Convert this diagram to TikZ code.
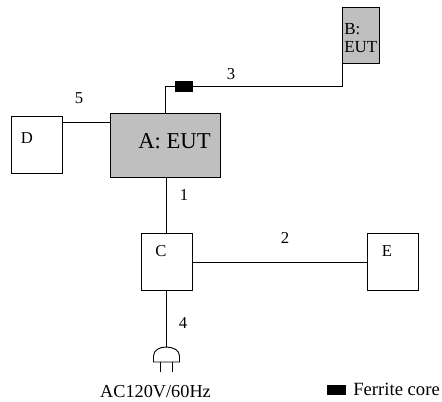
\documentclass[tikz,border=0pt]{standalone}
\usepackage{fontspec}
\setmainfont{Liberation Serif}
\tikzset{
  x=0.75pt,y=-0.75pt,
  plainbox/.style={draw,line width=0.7pt,minimum width=38.25pt,minimum height=42.75pt,inner sep=0pt,outer sep=0pt,anchor=north west,fill=white},
  eutbox/.style={plainbox,fill=black!25},
  lbl/.style={font=\fontsize{12.5}{14}\selectfont,inner sep=0pt},
  wire/.style={line width=0.7pt},
}
\begin{document}
\begin{tikzpicture}
\useasboundingbox (0,0) rectangle (442,401);
\node[eutbox,minimum width=82.5pt,minimum height=48pt] (A) at (110,113) {};
\node[font=\fontsize{17}{20}\selectfont,inner sep=0pt] (Atext) at (174.5,141) {A: EUT};
\node[eutbox,minimum width=27.75pt,minimum height=42pt] (B) at (342,7) {};
\node[font=\fontsize{12.7}{14}\selectfont,align=left,inner sep=0pt,anchor=west] (Btext) at (344,38) {B:\\EUT};
\node[plainbox] (D) at (11,116) {};
\node[lbl] (Dt) at (27,138) {D};
\node[plainbox] (C) at (141,233) {};
\node[lbl] (Ct) at (161,251) {C};
\node[plainbox] (E) at (367,233) {};
\node[lbl] (Et) at (387,251) {E};
\coordinate (b3) at (342,86);
\coordinate (a3) at (165,86);
\draw[wire] (B.south west) -- (b3) -- (a3) -- (a3 |- A.north);
\node[fill=black,minimum width=13.5pt,minimum height=8.25pt,inner sep=0pt] (F) at (184,86.5) {};
\draw[wire] (D.east |- 0,122) -- (A.west |- 0,122);
\draw[wire] (166,177) -- (166,233);
\draw[wire] (C.east |- 0,262) -- (E.west |- 0,262);
\coordinate (plugtop) at (166,347);
\draw[wire] (166,290) -- (plugtop);
\draw[wire] (plugtop) .. controls (160,347) and (153.5,350) .. (153.5,356) -- (153.5,362) -- (179.5,362) -- (179.5,356) .. controls (179.5,350) and (173,347) .. (plugtop);
\draw[wire] (160,362) -- (160,372);
\draw[wire] (172,362) -- (172,372);
\node[lbl] (n5) at (79,98) {5};
\node[lbl] (n3) at (231,74) {3};
\node[lbl] (n1) at (184,195) {1};
\node[lbl] (n2) at (285,238) {2};
\node[lbl] (n4) at (183,323) {4};
\node[font=\fontsize{13.7}{15}\selectfont,inner sep=0pt] (ac) at (155.5,391.5) {AC120V/60Hz};
\node[fill=black,minimum width=14.25pt,minimum height=7.5pt,inner sep=0pt,anchor=east] (K) at (346,390) {};
\node[font=\fontsize{14}{15}\selectfont,inner sep=0pt,anchor=west] (ft) at (353,389) {Ferrite core};
\end{tikzpicture}
\end{document}
